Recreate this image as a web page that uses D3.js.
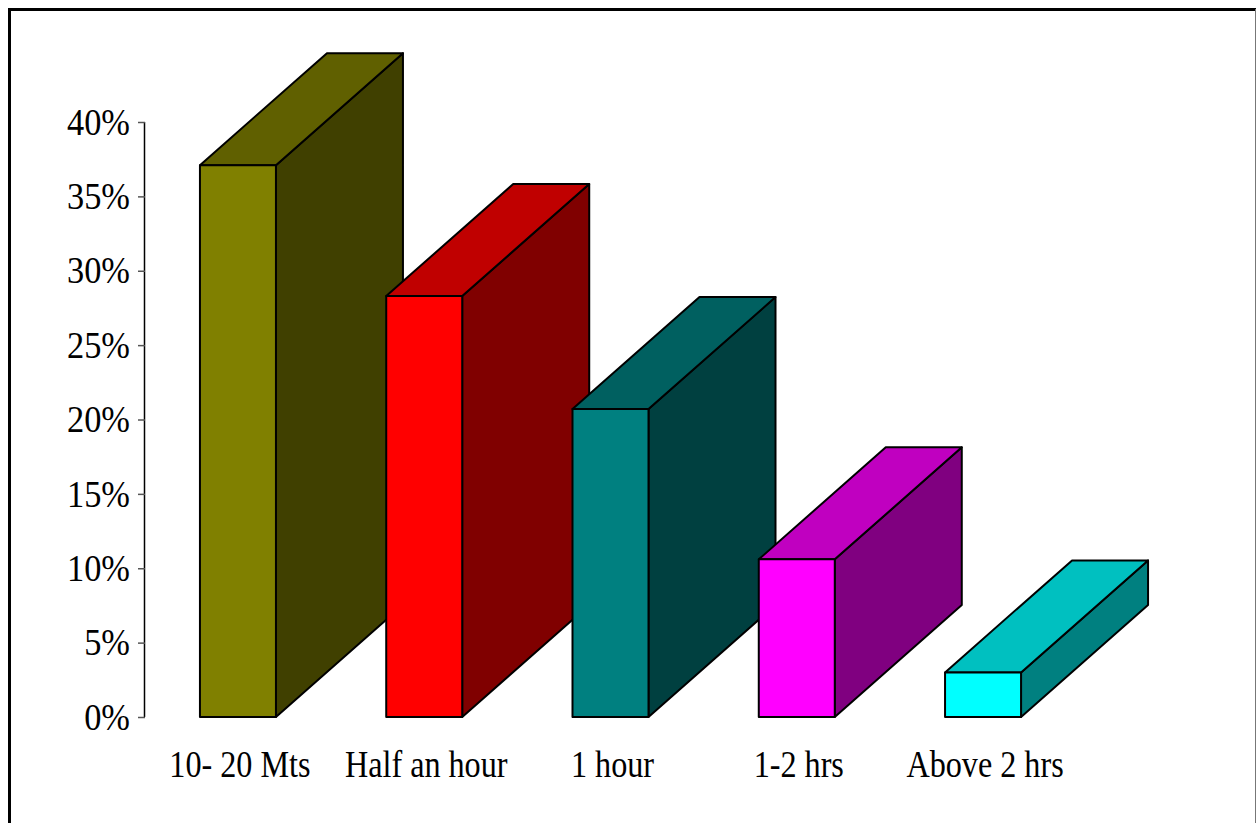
<!DOCTYPE html>
<html>
<head>
<meta charset="utf-8">
<script src="https://cdn.jsdelivr.net/npm/d3@7"></script>
<style>
  html, body { margin: 0; padding: 0; background: #fff; }
  svg { display: block; }
  text { font-family: "Liberation Serif", "Times New Roman", serif; fill: #000; }
</style>
</head>
<body>
<svg id="chart" width="1256" height="823"></svg>
<script>
// Share of respondents by time spent
const categories = ["10- 20 Mts", "Half an hour", "1 hour", "1-2 hrs", "Above 2 hrs"];
const values = [0.371, 0.283, 0.207, 0.106, 0.030];
const yTicks = [0, 0.05, 0.10, 0.15, 0.20, 0.25, 0.30, 0.35, 0.40];
// front / top / side shades for each bar
const frontColors = ["#808000", "#ff0000", "#008080", "#ff00ff", "#00ffff"];
const topColors   = ["#606000", "#c00000", "#006060", "#c000c0", "#00c0c0"];
const sideColors  = ["#404000", "#800000", "#004040", "#800080", "#008080"];

const svg = d3.select("#chart");
const fontSize = 37;          // tall, narrow serif lettering
const labelSqueeze = 0.87, tickSqueeze = 0.93;

// outer frame
svg.append("line").attr("x1", 9.5).attr("x2", 9.5).attr("y1", 8).attr("y2", 823)
  .attr("stroke", "#000").attr("stroke-width", 3);
svg.append("line").attr("x1", 8).attr("x2", 1256).attr("y1", 9.5).attr("y2", 9.5)
  .attr("stroke", "#000").attr("stroke-width", 3);
svg.append("line").attr("x1", 1255.5).attr("x2", 1255.5).attr("y1", 9).attr("y2", 823)
  .attr("stroke", "#777").attr("stroke-width", 1);

const axisX = 145;
const y = d3.scaleLinear().domain([0, 0.40]).range([717, 122]);
const x = d3.scaleBand().domain(categories).range([axisX, 1076])
  .paddingInner(0.592).paddingOuter(0.295);

// oblique depth of the 3D boxes
const depthX = 127, depthY = 112;

// y axis
const yAxis = d3.axisLeft(y).tickValues(yTicks).tickFormat(d3.format(".0%"))
  .tickSize(7).tickPadding(9);
const gy = svg.append("g").attr("transform", `translate(${axisX},0)`).call(yAxis);
gy.select(".domain").attr("stroke", "#000").attr("stroke-width", 1.5).attr("d", `M-0.5,${y(0.40)}V${y(0)}`);
gy.selectAll(".tick line").attr("stroke", "#555").attr("stroke-width", 1.5);
gy.selectAll(".tick text")
  .attr("font-size", fontSize)
  .attr("x", -15 / tickSqueeze)
  .attr("dy", "0.33em")
  .attr("transform", `scale(${tickSqueeze},1)`)
  .style("font-family", "'Liberation Serif', serif");

// bars
const bars = svg.append("g");
categories.forEach((c, i) => {
  const x0 = x(c), x1 = x0 + x.bandwidth();
  const yt = y(values[i]), yb = y(0);
  const g = bars.append("g");
  const face = (pts, fill) => g.append("path")
    .attr("d", d3.line()(pts) + "Z")
    .attr("fill", fill)
    .attr("stroke", "#000")
    .attr("stroke-width", 2)
    .attr("stroke-linejoin", "round");
  // side
  face([[x1, yt], [x1 + depthX, yt - depthY], [x1 + depthX, yb - depthY], [x1, yb]], sideColors[i]);
  // top
  face([[x0, yt], [x0 + depthX, yt - depthY], [x1 + depthX, yt - depthY], [x1, yt]], topColors[i]);
  // front
  face([[x0, yt], [x1, yt], [x1, yb], [x0, yb]], frontColors[i]);
});

// category labels
svg.append("g").selectAll("text").data(categories).join("text")
  .attr("transform", d => `translate(${x(d) + x.bandwidth() / 2 + 2},777) scale(${labelSqueeze},1)`)
  .attr("text-anchor", "middle")
  .attr("font-size", fontSize)
  .text(d => d);
</script>
</body>
</html>
